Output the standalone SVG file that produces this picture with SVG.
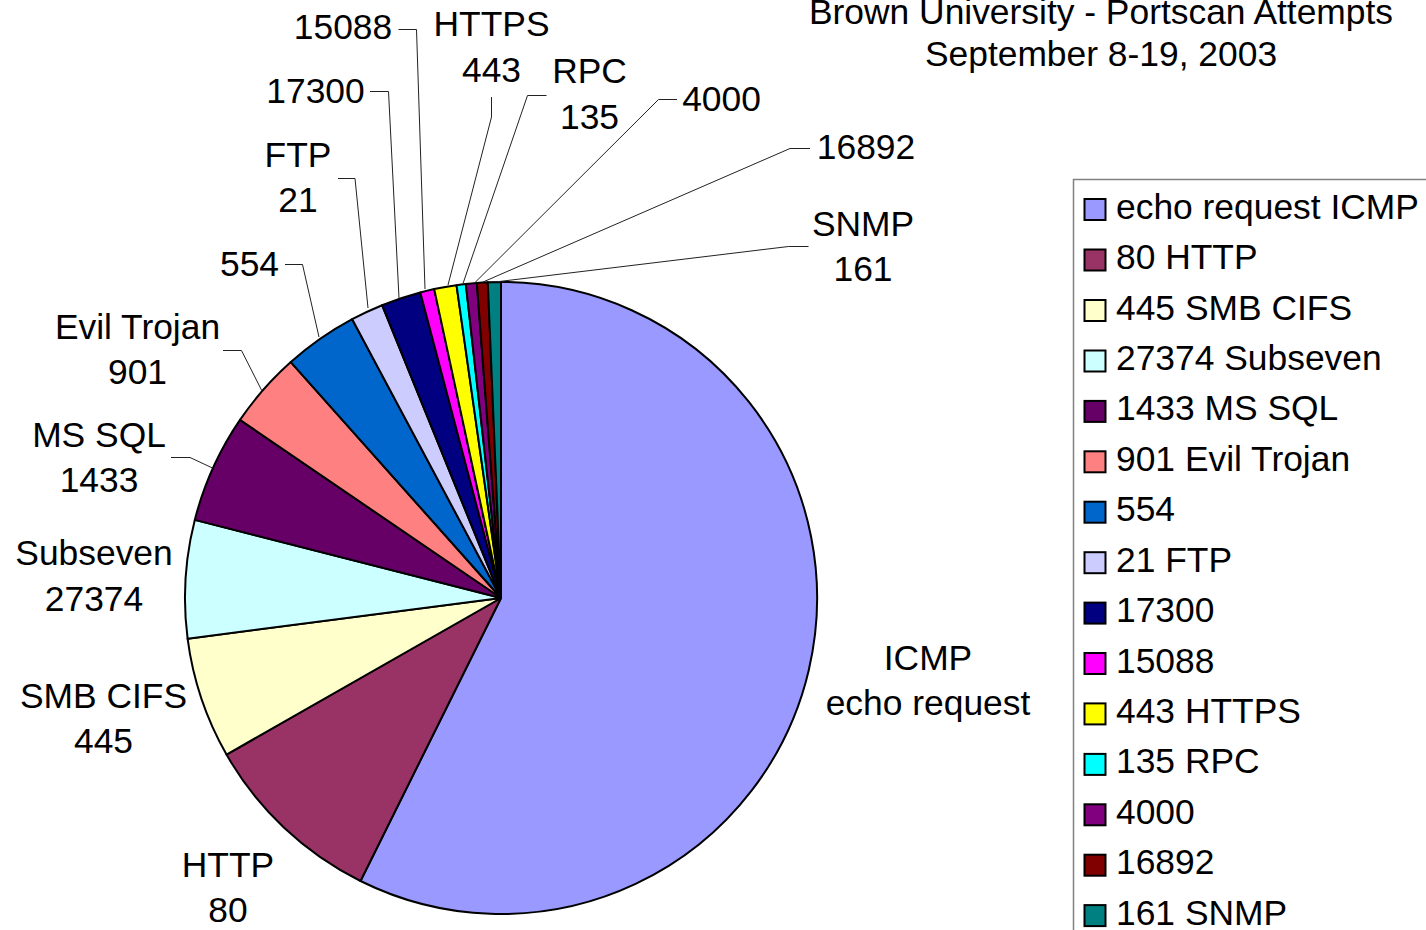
<svg xmlns="http://www.w3.org/2000/svg" width="1426" height="930" viewBox="0 0 1426 930">
<style>
text{font-family:"Liberation Sans",Arial,sans-serif;font-size:35.4px;fill:#000}
.c{text-anchor:middle}
.s{stroke:#000;stroke-width:2;stroke-linejoin:round}
.ld{fill:none;stroke:#222;stroke-width:1}
.sw{stroke:#000;stroke-width:2}
</style>
<rect width="1426" height="930" fill="#fff"/>
<g id="title">
<text class="c" x="1101" y="24">Brown University - Portscan Attempts</text>
<text class="c" x="1101" y="66">September 8-19, 2003</text>
</g>
<g id="pie">
<g id="s-icmp"><path class="s" fill="#9999FF" d="M501,598 L501,282 A316,316 0 1 1 360.5,881 Z"/></g>
<g id="s-http"><path class="s" fill="#993366" d="M501,598 L360.5,881 A316,316 0 0 1 226.5,754.6 Z"/></g>
<g id="s-smb"><path class="s" fill="#FFFFCC" d="M501,598 L226.5,754.6 A316,316 0 0 1 187.6,638.7 Z"/></g>
<g id="s-subseven"><path class="s" fill="#CCFFFF" d="M501,598 L187.6,638.7 A316,316 0 0 1 194.8,519.9 Z"/></g>
<g id="s-mssql"><path class="s" fill="#660066" d="M501,598 L194.8,519.9 A316,316 0 0 1 240,419.9 Z"/></g>
<g id="s-evil"><path class="s" fill="#FF8080" d="M501,598 L240,419.9 A316,316 0 0 1 290.8,362.1 Z"/></g>
<g id="s-554"><path class="s" fill="#0066CC" d="M501,598 L290.8,362.1 A316,316 0 0 1 352.2,319.2 Z"/></g>
<g id="s-ftp"><path class="s" fill="#CCCCFF" d="M501,598 L352.2,319.2 A316,316 0 0 1 382.1,305.2 Z"/></g>
<g id="s-17300"><path class="s" fill="#000080" d="M501,598 L382.1,305.2 A316,316 0 0 1 420.3,292.5 Z"/></g>
<g id="s-15088"><path class="s" fill="#FF00FF" d="M501,598 L420.3,292.5 A316,316 0 0 1 434.2,289.1 Z"/></g>
<g id="s-https"><path class="s" fill="#FFFF00" d="M501,598 L434.2,289.1 A316,316 0 0 1 456.5,285.2 Z"/></g>
<g id="s-rpc"><path class="s" fill="#00FFFF" d="M501,598 L456.5,285.2 A316,316 0 0 1 465.8,284 Z"/></g>
<g id="s-4000"><path class="s" fill="#800080" d="M501,598 L465.8,284 A316,316 0 0 1 476.8,282.9 Z"/></g>
<g id="s-16892"><path class="s" fill="#800000" d="M501,598 L476.8,282.9 A316,316 0 0 1 487.8,282.3 Z"/></g>
<g id="s-snmp"><path class="s" fill="#008080" d="M501,598 L487.8,282.3 A316,316 0 0 1 501,282 Z"/></g>
</g>
<g id="connectors">
<polyline class="ld" points="171,457.5 190,457.5 212.5,468"/>
<polyline class="ld" points="223,350.5 241.5,350.5 262,391"/>
<polyline class="ld" points="285,264.5 302.5,264.5 319,337"/>
<polyline class="ld" points="338,178.5 355,178.5 368,308"/>
<polyline class="ld" points="370,91.5 388.5,91.5 399,298"/>
<polyline class="ld" points="398.5,29.5 416.5,29.5 425,289"/>
<polyline class="ld" points="491.5,97 491.5,117 448,285"/>
<polyline class="ld" points="546.5,95.5 527.5,95.5 463,283.5"/>
<polyline class="ld" points="677,99.5 658.5,99.5 475,282.5"/>
<polyline class="ld" points="810,148.5 790,148.5 483,282"/>
<polyline class="ld" points="808.5,246.5 788.5,246.5 495,282"/>
</g>
<g id="labels">
<g id="l-icmp"><text class="c" x="928" y="670">ICMP</text><text class="c" x="928" y="715">echo request</text></g>
<g id="l-http"><text class="c" x="228" y="877">HTTP</text><text class="c" x="228" y="922">80</text></g>
<g id="l-smb"><text class="c" x="103.5" y="708">SMB CIFS</text><text class="c" x="103.5" y="753">445</text></g>
<g id="l-subseven"><text class="c" x="94" y="565">Subseven</text><text class="c" x="94" y="610.5">27374</text></g>
<g id="l-mssql"><text class="c" x="99" y="447">MS SQL</text><text class="c" x="99" y="492">1433</text></g>
<g id="l-evil"><text class="c" x="137.5" y="339">Evil Trojan</text><text class="c" x="137.5" y="384">901</text></g>
<g id="l-554"><text class="c" x="249.5" y="276">554</text></g>
<g id="l-ftp"><text class="c" x="298" y="167">FTP</text><text class="c" x="298" y="212">21</text></g>
<g id="l-17300"><text class="c" x="315.5" y="103">17300</text></g>
<g id="l-15088"><text class="c" x="343" y="38.5">15088</text></g>
<g id="l-https"><text class="c" x="491.5" y="35.5">HTTPS</text><text class="c" x="491.5" y="81.5">443</text></g>
<g id="l-rpc"><text class="c" x="589.5" y="83">RPC</text><text class="c" x="589.5" y="128.5">135</text></g>
<g id="l-4000"><text class="c" x="721.5" y="110.5">4000</text></g>
<g id="l-16892"><text class="c" x="866" y="159">16892</text></g>
<g id="l-snmp"><text class="c" x="863" y="236">SNMP</text><text class="c" x="863" y="281">161</text></g>
</g>
<g id="legend">
<rect x="1073.5" y="179.5" width="400" height="800" fill="#fff" stroke="#808080" stroke-width="1.5"/>
<g id="lg-0"><rect class="sw" x="1084.5" y="199" width="21" height="21" fill="#9999FF"/><text x="1116" y="218.5">echo request ICMP</text></g>
<g id="lg-1"><rect class="sw" x="1084.5" y="249.5" width="21" height="21" fill="#993366"/><text x="1116" y="269">80 HTTP</text></g>
<g id="lg-2"><rect class="sw" x="1084.5" y="300" width="21" height="21" fill="#FFFFCC"/><text x="1116" y="319.5">445 SMB CIFS</text></g>
<g id="lg-3"><rect class="sw" x="1084.5" y="350.5" width="21" height="21" fill="#CCFFFF"/><text x="1116" y="370">27374 Subseven</text></g>
<g id="lg-4"><rect class="sw" x="1084.5" y="400.9" width="21" height="21" fill="#660066"/><text x="1116" y="420.4">1433 MS SQL</text></g>
<g id="lg-5"><rect class="sw" x="1084.5" y="451.3" width="21" height="21" fill="#FF8080"/><text x="1116" y="470.8">901 Evil Trojan</text></g>
<g id="lg-6"><rect class="sw" x="1084.5" y="501.7" width="21" height="21" fill="#0066CC"/><text x="1116" y="521.2">554</text></g>
<g id="lg-7"><rect class="sw" x="1084.5" y="552.2" width="21" height="21" fill="#CCCCFF"/><text x="1116" y="571.7">21 FTP</text></g>
<g id="lg-8"><rect class="sw" x="1084.5" y="602.6" width="21" height="21" fill="#000080"/><text x="1116" y="622.1">17300</text></g>
<g id="lg-9"><rect class="sw" x="1084.5" y="653" width="21" height="21" fill="#FF00FF"/><text x="1116" y="672.5">15088</text></g>
<g id="lg-10"><rect class="sw" x="1084.5" y="703.4" width="21" height="21" fill="#FFFF00"/><text x="1116" y="722.9">443 HTTPS</text></g>
<g id="lg-11"><rect class="sw" x="1084.5" y="753.9" width="21" height="21" fill="#00FFFF"/><text x="1116" y="773.4">135 RPC</text></g>
<g id="lg-12"><rect class="sw" x="1084.5" y="804.3" width="21" height="21" fill="#800080"/><text x="1116" y="823.8">4000</text></g>
<g id="lg-13"><rect class="sw" x="1084.5" y="854.7" width="21" height="21" fill="#800000"/><text x="1116" y="874.2">16892</text></g>
<g id="lg-14"><rect class="sw" x="1084.5" y="905.1" width="21" height="21" fill="#008080"/><text x="1116" y="924.6">161 SNMP</text></g>
</g>
</svg>
